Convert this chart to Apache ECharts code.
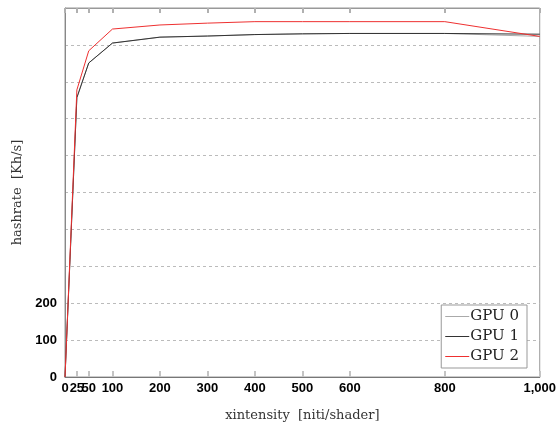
<!DOCTYPE html>
<html>
<head>
<meta charset="utf-8">
<script src="https://cdn.jsdelivr.net/npm/echarts@6/dist/echarts.min.js"></script>
<style>
  html, body { margin: 0; padding: 0; background: #fff; }
  #chart { width: 559px; height: 427px; }
</style>
</head>
<body>
<div id="chart"></div>
<script>
// x positions (intensity) and hashrate per GPU
const intensity = [0, 25, 50, 100, 200, 300, 400, 500, 600, 800, 1000];
const gpu0 = [0, 757, 851, 905, 921, 924, 928, 930, 931, 931, 923];
const gpu1 = [0, 757, 851, 905, 921, 924, 928, 930, 931, 931, 929];
const gpu2 = [0, 778, 884, 943, 954, 959, 963, 963, 963, 963, 923];
const xTicks = [0, 25, 50, 100, 200, 300, 400, 500, 600, 800, 1000];
const yLabelShown = [0, 100, 200];

const pairs = (ys) => intensity.map((x, i) => [x, ys[i]]);

const chart = echarts.init(document.getElementById('chart'));
const serif = '"DejaVu Serif", "Liberation Serif", serif';
const labelFont = { color: '#000', fontFamily: '"Liberation Sans", Arial, sans-serif', fontWeight: 'bold', fontSize: 13 };

const option = {
  animation: false,
  grid: { left: 65, right: 18, top: 8, bottom: 49, show: true, borderColor: '#999', borderWidth: 1 },
  legend: {
    orient: 'vertical',
    right: 32,
    bottom: 59,
    backgroundColor: '#fff',
    borderColor: '#999',
    borderWidth: 1,
    borderRadius: 0,
    padding: [4, 8, 4, 4],
    itemGap: 5,
    itemWidth: 24,
    itemHeight: 1,
    icon: 'rect',
    textStyle: { fontFamily: serif, fontSize: 15, color: '#222', padding: [0, 0, 0, -4] },
    data: ['GPU 0', 'GPU 1', 'GPU 2']
  },
  xAxis: [
    {
      type: 'value', min: 0, max: 1000,
      name: 'xintensity  [niti/shader]',
      nameLocation: 'middle', nameGap: 32,
      nameTextStyle: { fontFamily: serif, fontSize: 13, color: '#333' },
      axisLine: { show: true, lineStyle: { color: '#777', width: 1 } },
      axisTick: { show: true, inside: true, length: 6, customValues: xTicks, lineStyle: { color: '#c4c4c4', width: 2 } },
      axisLabel: {
        show: true, customValues: xTicks, margin: 5, ...labelFont,
        formatter: v => v === 1000 ? '1,000' : String(v)
      },
      splitLine: { show: false }
    },
    {
      type: 'value', min: 0, max: 1000, position: 'top',
      axisLine: { show: true, lineStyle: { color: '#999', width: 1 } },
      axisTick: { show: true, inside: true, length: 5, customValues: xTicks, lineStyle: { color: '#b0b0b0', width: 2 } },
      axisLabel: { show: true, inside: true, customValues: xTicks, color: 'rgba(0,0,0,0)' },
      splitLine: { show: false }
    }
  ],
  yAxis: [
    {
      type: 'value', min: 0, max: 1000, interval: 100,
      name: 'hashrate  [Kh/s]',
      nameLocation: 'middle', nameGap: 41,
      nameTextStyle: { fontFamily: serif, fontSize: 13, color: '#333' },
      axisLine: { show: true, lineStyle: { color: '#888', width: 1 } },
      axisTick: { show: false },
      axisLabel: {
        margin: 8, ...labelFont,
        formatter: v => yLabelShown.includes(v) ? String(v) : ''
      },
      splitLine: { show: true, lineStyle: { type: [3, 3], color: '#bbb', width: 1 } }
    }
  ],
  series: [
    { name: 'GPU 0', type: 'line', data: pairs(gpu0), showSymbol: false, color: '#aaaaaa', lineStyle: { width: 1 } },
    { name: 'GPU 1', type: 'line', data: pairs(gpu1), showSymbol: false, color: '#333333', lineStyle: { width: 1 } },
    { name: 'GPU 2', type: 'line', data: pairs(gpu2), showSymbol: false, color: '#ee3030', lineStyle: { width: 1 } },
    { type: 'line', xAxisIndex: 1, yAxisIndex: 0, data: [], silent: true }
  ]
};
chart.setOption(option);
</script>
</body>
</html>
